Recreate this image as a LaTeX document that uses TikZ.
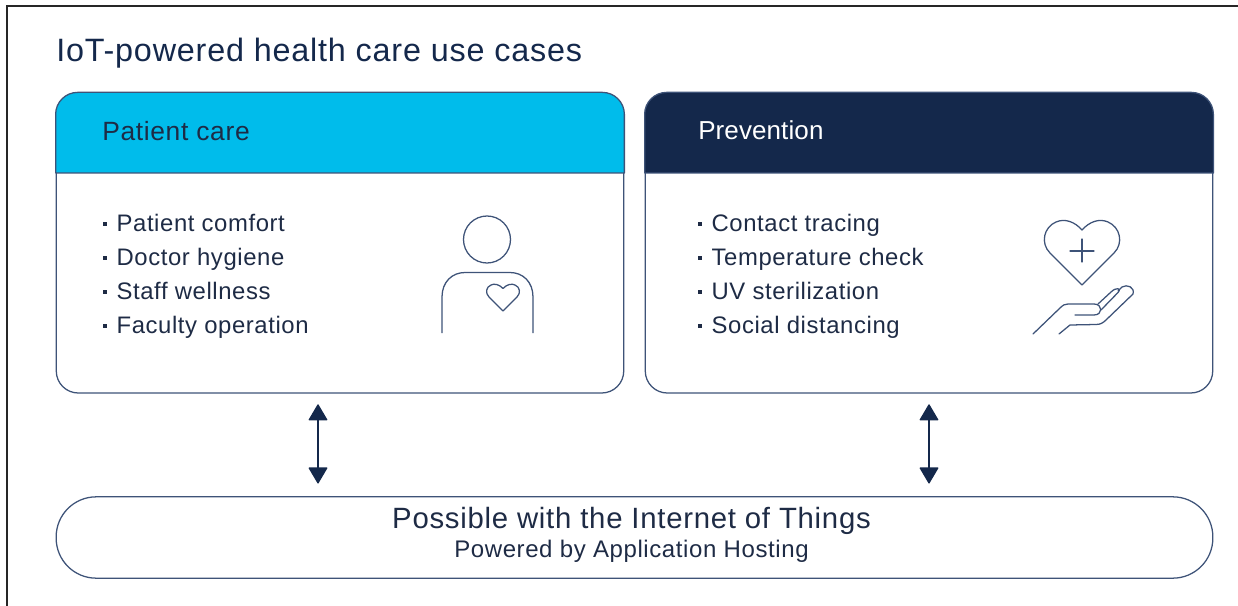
\documentclass[tikz,border=0pt]{standalone}
\usepackage{fontspec}
\setmainfont{Liberation Sans}[LetterSpace=2.5]
\newfontfamily\plainsp{Liberation Sans}[LetterSpace=0.4]
\usetikzlibrary{arrows.meta,calc}
\definecolor{navy}{HTML}{14284B}
\definecolor{skyb}{HTML}{00BCEB}
\definecolor{edgeb}{HTML}{3E5378}
\definecolor{inkb}{HTML}{1E2B45}
\newcommand{\blt}{\rule[0.22em]{0.16em}{0.16em}\hspace{0.40em}}
\tikzset{
  x=0.75pt,y=-0.75pt,
  cardbox/.style={draw=edgeb,line width=0.95pt,rounded corners=16.5pt,minimum width=425.6pt,minimum height=225pt,inner sep=0pt},
  pillbox/.style={draw=edgeb,line width=0.95pt,rounded corners=30pt,minimum width=867.5pt,minimum height=61pt,inner sep=0pt,align=center},
  headtxt/.style={anchor=base west,font=\fontsize{19.8pt}{22pt}\selectfont,inner sep=0pt},
  itemtxt/.style={anchor=base west,font=\fontsize{17.9pt}{20pt}\selectfont,text=inkb,inner sep=0pt},
  iconline/.style={draw=edgeb,line width=0.95pt,line join=round,line cap=round},
  biarrow/.style={{Triangle[length=12.5pt,width=14.5pt,round]}-{Triangle[length=12.5pt,width=14.5pt,round]},draw=navy,line width=0.9pt,color=navy},
}
\begin{document}
\begin{tikzpicture}
\useasboundingbox (0,0) rectangle (1238,606);
\draw[black!85,line width=2.1pt] (7,606) -- (7,6) -- (1238,6);
\node[anchor=base west,inner sep=0pt,text=navy,font=\fontsize{24.25pt}{27pt}\selectfont] (title) at (56,62) {IoT-powered health care use cases};

\node[cardbox] (card1) at (340,243) {};
\node[cardbox] (card2) at (929,243) {};
\fill[skyb,draw=edgeb,line width=0.95pt,line cap=butt,line join=round] (card1.west |- 0,173) [rounded corners=16.5pt] -- (card1.north west) -- (card1.north east) [sharp corners] -- (card1.east |- 0,173) -- cycle;
\fill[navy,draw=edgeb,line width=0.95pt,line cap=butt,line join=round] (card2.west |- 0,173) [rounded corners=16.5pt] -- (card2.north west) -- (card2.north east) [sharp corners] -- (card2.east |- 0,173) -- cycle;
\node[headtxt,text=inkb] (head1) at (102,141) {Patient care};
\node[headtxt,text=white,font=\fontsize{19.5pt}{22pt}\plainsp] (head2) at (698,140) {Prevention};

\node[itemtxt] (a1) at (103,231) {\blt Patient comfort};
\node[itemtxt] (a2) at (103,265) {\blt Doctor hygiene};
\node[itemtxt] (a3) at (103,299) {\blt Staff wellness};
\node[itemtxt] (a4) at (103,333) {\blt Faculty operation};
\node[itemtxt] (b1) at (698,231) {\blt Contact tracing};
\node[itemtxt] (b2) at (698,265) {\blt Temperature check};
\node[itemtxt] (b3) at (698,299) {\blt UV sterilization};
\node[itemtxt] (b4) at (698,333) {\blt Social distancing};

% person icon
\draw[iconline] (487,239.5) circle[radius=23.5];
\draw[iconline,line cap=butt] (442,333) -- (442,297) .. controls (442,282) and (452,272.5) .. (465,272.5) -- (510,272.5) .. controls (523,272.5) and (533,282) .. (533,297) -- (533,333);
\draw[iconline] (503,288.5) .. controls (499,284) and (494,283.5) .. (491,285) .. controls (486,287) and (485,293) .. (489,297) -- (503,311) -- (517,297) .. controls (521,293) and (520,287) .. (515,285) .. controls (512,283.5) and (507,284) .. (503,288.5) -- cycle;

% heart + hand icon
\draw[iconline] (1082,230) .. controls (1075,222) and (1065,218) .. (1056,222) .. controls (1044,227) and (1040,243) .. (1050,253) -- (1082,285) -- (1114,253) .. controls (1124,243) and (1120,227) .. (1108,222) .. controls (1099,218) and (1089,222) .. (1082,230) -- cycle;
\draw[iconline] (1070,251) -- (1094,251) (1082,239) -- (1082,262);
\draw[iconline] (1033,334) -- (1060,308) .. controls (1063,305) and (1065,304) .. (1068,304) -- (1094,304) .. controls (1103,304) and (1103,315) .. (1094,315) -- (1075,315);
\draw[iconline] (1098,304) -- (1111,292) .. controls (1116,287) and (1122,288) .. (1118,292.5) -- (1101,310);
\draw[iconline] (1118,291) -- (1122,287) .. controls (1127,284) and (1135,287) .. (1133,294) -- (1106,320) .. controls (1103,323) and (1100,324.5) .. (1096,324.5) -- (1070,325) -- (1059,334);

% bottom pill
\node[pillbox] (pill) at (634.5,537.5) {};
\node[inner sep=0pt,anchor=base,text=inkb,font=\fontsize{22pt}{25pt}\selectfont] (pt1) at (631.5,528) {Possible with the Internet of Things};
\node[inner sep=0pt,anchor=base,text=inkb,font=\fontsize{18pt}{20pt}\selectfont] (pt2) at (631.5,557) {Powered by Application Hosting};

\draw[biarrow,shorten <=8pt,shorten >=9.5pt] (card1.south -| 318,0) -- (pill.north -| 318,0);
\draw[biarrow,shorten <=8pt,shorten >=9.5pt] (card2.south -| 929,0) -- (pill.north -| 929,0);
\end{tikzpicture}
\end{document}
